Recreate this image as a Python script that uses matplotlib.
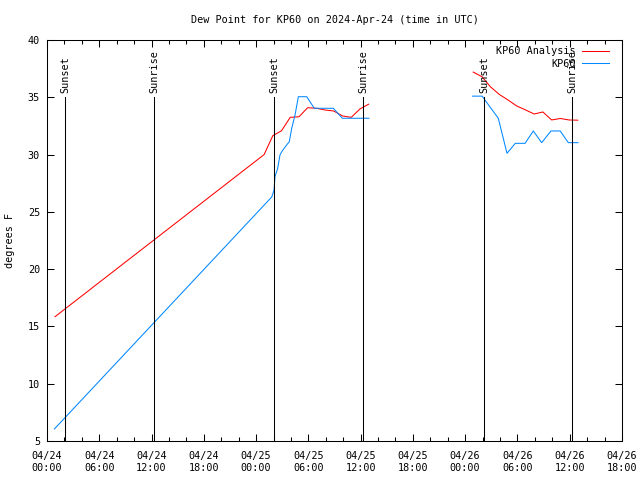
import matplotlib
matplotlib.use("Agg")
import matplotlib.pyplot as plt
from matplotlib.ticker import MultipleLocator

# hours since 2024-04-24 00:00 UTC
analysis_t = [0.92, 24.92, 25.92, 26.92, 27.92, 28.92, 29.92, 30.92, 31.92, 32.92,
              33.92, 34.92, 35.92, 36.92,
              None,
              48.92, 49.92, 50.92, 51.92, 52.92, 53.92, 54.92, 55.92, 56.92, 57.92,
              58.92, 59.92, 60.92]
analysis_v = [15.85, 30.0, 31.65, 32.08, 33.25, 33.3, 34.09, 34.04, 33.89, 33.8,
              33.37, 33.25, 33.98, 34.4,
              None,
              37.2, 36.8, 35.9, 35.25, 34.76, 34.24, 33.9, 33.54, 33.72, 33.02,
              33.15, 33.02, 33.0]

obs_t = [0.85, 25.8, 26.06, 26.17, 26.48, 26.74, 26.94, 27.51, 27.81, 28.09, 28.47,
         28.85, 29.81, 30.68, 31.9, 32.86, 33.9, 34.9, 35.9, 36.95,
         None,
         48.85, 49.95, 50.9, 51.8, 52.8, 53.75, 54.87, 55.82, 56.78, 57.85,
         58.9, 59.84, 60.95]
obs_v = [6.05, 26.3, 26.9, 28.07, 28.8, 29.96, 30.25, 30.84, 31.12, 32.3, 33.45,
         35.05, 35.05, 34.04, 34.04, 34.04, 33.17, 33.17, 33.17, 33.17,
         None,
         35.1, 35.1, 34.1, 33.17, 30.11, 30.98, 30.98, 32.06, 31.04, 32.06,
         32.06, 31.04, 31.04]

sunset_t = [2.07, 26.09, 50.2]
sunrise_t = [12.28, 36.31, 60.3]

xtick_labels = ["04/24\n00:00", "04/24\n06:00", "04/24\n12:00", "04/24\n18:00",
                "04/25\n00:00", "04/25\n06:00", "04/25\n12:00", "04/25\n18:00",
                "04/26\n00:00", "04/26\n06:00", "04/26\n12:00", "04/26\n18:00"]
ytick_values = [5, 10, 15, 20, 25, 30, 35, 40]


def split(t, v):
    segs, ct, cv = [], [], []
    for a, b in zip(t, v):
        if a is None:
            segs.append((ct, cv)); ct, cv = [], []
        else:
            ct.append(a); cv.append(b)
    segs.append((ct, cv))
    return segs


FONT = "DejaVu Sans Mono"
FS = 7.3
plt.rcParams["font.family"] = FONT
plt.rcParams["font.size"] = FS

fig = plt.figure(figsize=(6.4, 4.8), dpi=100)
ax = fig.add_axes([47 / 640, 1 - 441 / 480, (622 - 47) / 640, (441 - 40) / 480])

red = "#ff0000"
blue = "#0088ff"
lw = 0.75

for i, (t, v) in enumerate(split(analysis_t, analysis_v)):
    ax.plot(t, v, color=red, lw=lw, label="KP60 Analysis" if i == 0 else None)
for i, (t, v) in enumerate(split(obs_t, obs_v)):
    ax.plot(t, v, color=blue, lw=lw, label="KP60" if i == 0 else None)

for t in sunset_t:
    ax.plot([t, t], [5, 35], color="black", lw=lw)
    ax.text(t, 35.4, "Sunset", rotation=90, ha="center", va="bottom", fontsize=FS)
for t in sunrise_t:
    ax.plot([t, t], [5, 35], color="black", lw=lw)
    ax.text(t, 35.4, "Sunrise", rotation=90, ha="center", va="bottom", fontsize=FS)

ax.set_xlim(0, 66)
ax.set_ylim(5, 40)
ax.set_xticks([6 * i for i in range(len(xtick_labels))])
ax.set_xticklabels(xtick_labels)
ax.xaxis.set_minor_locator(MultipleLocator(2))
ax.set_yticks(ytick_values)
ax.set_yticklabels([str(v) for v in ytick_values])

ax.tick_params(axis="both", which="major", direction="in", length=5, width=0.75,
               top=True, right=True, labelsize=FS)
ax.tick_params(axis="x", which="major", pad=7.5)
ax.tick_params(axis="y", which="major", pad=5)
ax.tick_params(axis="x", which="minor", direction="in", length=3, width=0.75,
               top=True, bottom=True)
for s in ax.spines.values():
    s.set_linewidth(0.75)

ax.set_ylabel("degrees F", fontsize=FS)
ax.yaxis.set_label_coords((15 - 47) / 575, 0.5)
ax.set_title("Dew Point for KP60 on 2024-Apr-24 (time in UTC)", fontsize=FS, pad=12.5)

ax.legend(loc="upper right", bbox_to_anchor=(1 - 6.5 / 575, 1.0), frameon=False,
          markerfirst=False, fontsize=FS,
          handlelength=2.7, handletextpad=0.6, labelspacing=0.25,
          borderaxespad=0.3, borderpad=0.3)

fig.savefig("out.png", dpi=100)
